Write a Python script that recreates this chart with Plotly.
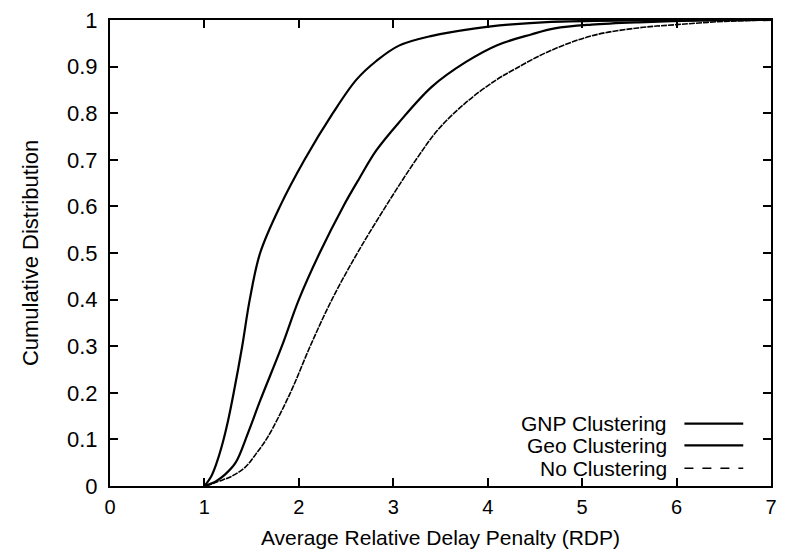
import plotly.graph_objects as go

# Data (CDF curves: x = RDP, y = cumulative fraction)
gnp_x = [1.00, 1.07, 1.13, 1.19, 1.25, 1.31, 1.40, 1.48, 1.59, 1.80, 2.06, 2.36, 2.61, 2.82, 3.06, 3.41, 3.87, 4.22, 4.67, 5.50, 7.00]
gnp_y = [0.0, 0.02, 0.05, 0.09, 0.14, 0.20, 0.30, 0.40, 0.50, 0.60, 0.70, 0.80, 0.872, 0.912, 0.945, 0.966, 0.982, 0.990, 0.996, 0.999, 1.0]

geo_x = [1.00, 1.12, 1.22, 1.33, 1.46, 1.59, 1.82, 2.00, 2.22, 2.47, 2.64, 2.82, 3.06, 3.41, 3.77, 4.10, 4.46, 4.71, 5.10, 5.60, 6.30, 7.00]
geo_y = [0.0, 0.01, 0.025, 0.05, 0.113, 0.183, 0.30, 0.40, 0.50, 0.60, 0.66, 0.72, 0.78, 0.857, 0.91, 0.946, 0.969, 0.982, 0.990, 0.995, 0.999, 1.0]

no_x = [1.02, 1.15, 1.28, 1.43, 1.55, 1.67, 1.91, 2.12, 2.35, 2.62, 2.92, 3.24, 3.48, 3.77, 4.08, 4.29, 4.64, 5.10, 5.59, 6.00, 6.50, 7.00]
no_y = [0.0, 0.01, 0.02, 0.04, 0.07, 0.105, 0.20, 0.30, 0.40, 0.50, 0.60, 0.70, 0.766, 0.823, 0.870, 0.895, 0.932, 0.966, 0.983, 0.990, 0.997, 1.0]

series_names = ["GNP Clustering", "Geo Clustering", "No Clustering"]

x_ticks = [0, 1, 2, 3, 4, 5, 6, 7]
y_ticks = [0, 0.1, 0.2, 0.3, 0.4, 0.5, 0.6, 0.7, 0.8, 0.9, 1]
y_tick_text = ["0", "0.1", "0.2", "0.3", "0.4", "0.5", "0.6", "0.7", "0.8", "0.9", "1"]

FONT = "Liberation Sans, Arial, Helvetica, sans-serif"

fig = go.Figure()
styles = [
    dict(color="black", width=2.2, dash="solid"),
    dict(color="black", width=2.2, dash="solid"),
    dict(color="black", width=1.6, dash="6px,1px"),
]
for name, xs, ys, st in zip(series_names, [gnp_x, geo_x, no_x], [gnp_y, geo_y, no_y], styles):
    fig.add_trace(go.Scatter(x=xs, y=ys, mode="lines", name=name, line=st,
                             line_shape="spline", showlegend=False))

# Manual legend (text on left, sample line on right, as in the reference)
leg_rows_y = [0.134, 0.087, 0.038]
leg_dash = ["solid", "solid", "dash"]
for name, yy, dsh, st in zip(series_names, leg_rows_y, leg_dash, styles):
    fig.add_annotation(x=0.845, y=yy, xref="paper", yref="paper", text=name,
                       showarrow=False, xanchor="right", yanchor="middle",
                       font=dict(family=FONT, size=21, color="black"))
    fig.add_shape(type="line", xref="paper", yref="paper",
                  x0=0.869, x1=0.958, y0=yy, y1=yy,
                  line=dict(color="black", width=st["width"], dash=dsh))

axis_common = dict(showline=True, linecolor="black", linewidth=2, mirror="ticks",
                   ticks="inside", ticklen=8, tickwidth=1.5, tickcolor="black",
                   showgrid=False, zeroline=False)

fig.update_xaxes(range=[0, 7], tickmode="array", tickvals=x_ticks,
                 ticktext=[str(v) for v in x_ticks], ticklabelstandoff=2,
                 tickfont=dict(family=FONT, size=20, color="black"),
                 title=dict(text="Average Relative Delay Penalty (RDP)",
                            font=dict(family=FONT, size=21, color="black"), standoff=13),
                 **axis_common)
fig.update_yaxes(range=[0, 1], tickmode="array", tickvals=y_ticks, ticktext=y_tick_text,
                 ticklabelstandoff=6,
                 tickfont=dict(family=FONT, size=22, color="black"),
                 title=dict(text="Cumulative Distribution",
                            font=dict(family=FONT, size=22, color="black"), standoff=22),
                 **axis_common)

fig.update_layout(width=785, height=555, margin=dict(l=110, r=8, t=14, b=69),
                  paper_bgcolor="white", plot_bgcolor="white")

fig.write_html("out.html")
